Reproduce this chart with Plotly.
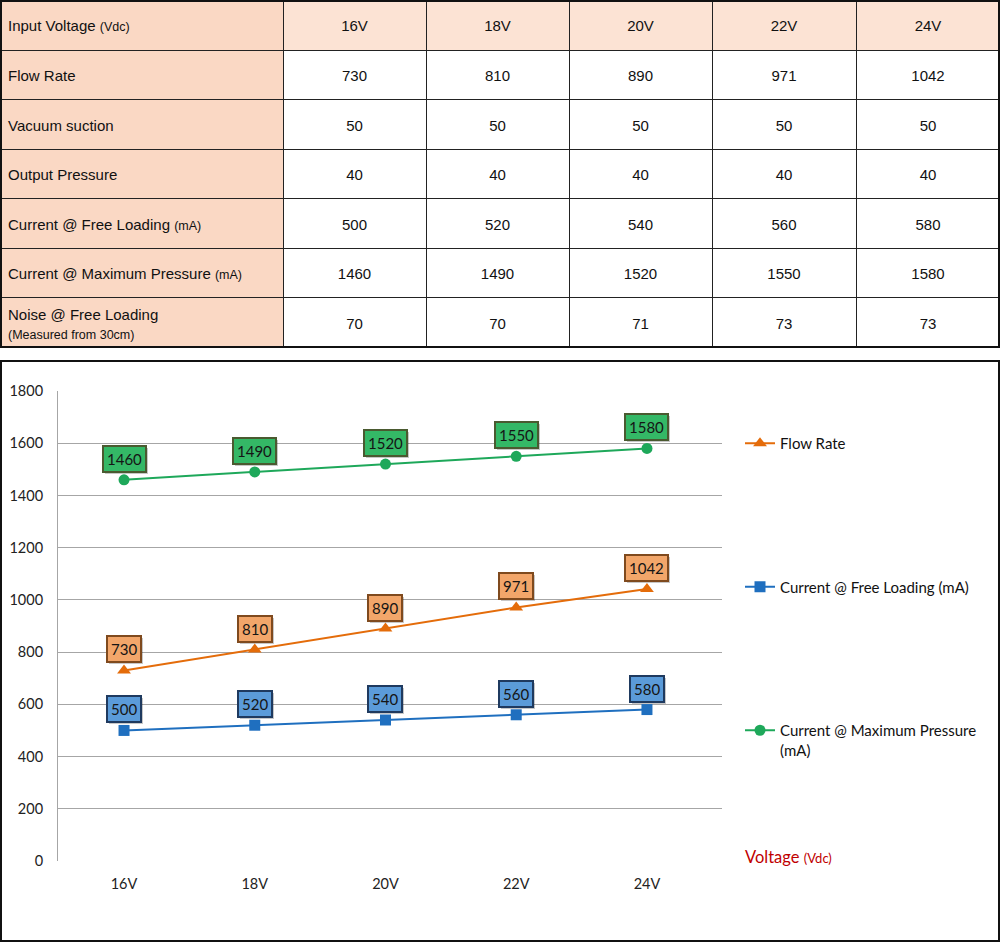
import plotly.graph_objects as go

W, H = 1000, 943

voltages = ["16V", "18V", "20V", "22V", "24V"]
flow_rate = [730, 810, 890, 971, 1042]
vacuum = [50, 50, 50, 50, 50]
out_pressure = [40, 40, 40, 40, 40]
cur_free = [500, 520, 540, 560, 580]
cur_max = [1460, 1490, 1520, 1550, 1580]
noise = [70, 70, 71, 73, 73]

header_label = ("Input Voltage", "(Vdc)")
row_labels = [
    ("Flow Rate", ""),
    ("Vacuum suction", ""),
    ("Output Pressure", ""),
    ("Current @ Free Loading", "(mA)"),
    ("Current @ Maximum Pressure", "(mA)"),
]
noise_label = ("Noise @ Free Loading", "(Measured from 30cm)")
rows = [flow_rate, vacuum, out_pressure, cur_free, cur_max, noise]

PEACH = "#FAD8C4"
PEACH_H = "#FCE3D4"
# tall invisible spacer: enlarges the line box so the visible text sits mid-cell
SP = "<span style='font-size:25px'>\u00a0</span>"


def label_cell(main, small=""):
    s = main
    if small:
        s += f" <span style='font-size:12.5px'>{small}</span>"
    return s + SP + "<br>"


def value_cell(v):
    return SP + str(v) + SP + "<br>"


def py(px):
    return 1 - px / H


fig = go.Figure()

# ---------- table ----------
first_col = [label_cell(a, b) for a, b in row_labels]
first_col.append(f"{noise_label[0]}<br><span style='font-size:12.5px'>{noise_label[1]}</span>")
cols = [first_col] + [[value_cell(r[i]) for r in rows] for i in range(len(voltages))]

fig.add_trace(go.Table(
    domain=dict(x=[0, 1], y=[py(348), 1]),
    columnwidth=[283, 143, 143, 143, 144, 144],
    header=dict(
        values=[label_cell(*header_label)] + [value_cell(v) for v in voltages],
        fill_color=[PEACH] + [PEACH_H] * 5,
        line=dict(color="#222", width=1),
        align=["left"] + ["center"] * 5,
        font=dict(family="Liberation Sans", size=15, color="#111"),
        height=50,
    ),
    cells=dict(
        values=cols,
        fill_color=[[PEACH] * 6] + [["white"] * 6] * 5,
        line=dict(color="#222", width=1),
        align=["left"] + ["center"] * 5,
        font=dict(family="Liberation Sans", size=15, color="#111"),
        height=49.5,
    ),
))

# ---------- chart ----------
xs = list(range(len(voltages)))
series = [
    ("Flow Rate", flow_rate, "#E46C0A", "triangle-up", 12, "#F2A66A", "#7F4A1E"),
    ("Current @ Free Loading (mA)", cur_free, "#1F6FBF", "square", 11, "#5B9BD9", "#1F3A5F"),
    ("Current @ Maximum Pressure<br>(mA)", cur_max, "#1EA85A", "circle", 11, "#34B866", "#4A5A30"),
]
for i, (name, vals, col, sym, msize, fill, border) in enumerate(series):
    fig.add_trace(go.Scatter(
        x=xs, y=vals, name=name, mode="lines+markers",
        line=dict(color=col, width=2),
        marker=dict(symbol=sym, size=msize, color=col),
        legendgroup=f"g{i}",
        xaxis="x", yaxis="y",
    ))
    for x, v in zip(xs, vals):
        # soft shadow
        fig.add_annotation(x=x, y=v, xref="x", yref="y", text=str(v),
                           showarrow=False, yshift=19, xshift=2,
                           bgcolor="rgba(0,0,0,0.22)", bordercolor="rgba(0,0,0,0)",
                           borderwidth=2, borderpad=3,
                           font=dict(family="Lato", size=15, color="rgba(0,0,0,0)"))
        fig.add_annotation(x=x, y=v, xref="x", yref="y", text=str(v),
                           showarrow=False, yshift=21,
                           bgcolor=fill, bordercolor=border,
                           borderwidth=2, borderpad=3,
                           font=dict(family="Lato", size=15, color="#151515"))

# chart border
fig.add_shape(type="rect", xref="paper", yref="paper",
              x0=1 / W, x1=1 - 1 / W, y0=py(941), y1=py(361),
              line=dict(color="#111", width=2), layer="above")
# table outer border
fig.add_shape(type="rect", xref="paper", yref="paper",
              x0=1 / W, x1=1 - 1 / W, y0=py(347), y1=py(1),
              line=dict(color="#111", width=2), layer="above")

fig.add_annotation(x=743 / W, y=py(857), xref="paper", yref="paper",
                   xanchor="left", yanchor="middle", showarrow=False,
                   text="Voltage <span style='font-size:13px'>(Vdc)</span>",
                   font=dict(family="Lato", size=16.5, color="#C00000"))

fig.update_layout(
    width=W, height=H, autosize=False,
    margin=dict(l=0, r=0, t=0, b=0, pad=0, autoexpand=False),
    paper_bgcolor="white", plot_bgcolor="white",
    font=dict(family="Lato", size=14, color="#222"),
    xaxis=dict(domain=[58 / W, 722 / W], range=[-0.505, 4.574],
               tickvals=xs, ticktext=voltages, showgrid=False, zeroline=False,
               showline=False, ticks="", ticklabelstandoff=12, automargin=False,
               tickfont=dict(family="Lato", size=14.5, color="#222"), fixedrange=True),
    yaxis=dict(domain=[py(861), py(391)], range=[0, 1800], dtick=200,
               showgrid=True, gridcolor="#A6A6A6", gridwidth=1, zeroline=False,
               showline=True, linecolor="#A6A6A6", linewidth=1,
               ticks="", ticklabelstandoff=11, automargin=False,
               tickfont=dict(family="Lato", size=14.5, color="#222")),
    showlegend=True,
    legend=dict(x=740 / W, y=py(427), xanchor="left", yanchor="top",
                traceorder="grouped", tracegroupgap=121, valign="top",
                font=dict(family="Lato", size=15, color="#111"),
                bgcolor="rgba(0,0,0,0)", itemwidth=30),
)

fig.write_html("out.html",
               config={"displayModeBar": False},
               post_script="document.body.style.margin='0';document.body.style.overflow='hidden';")
